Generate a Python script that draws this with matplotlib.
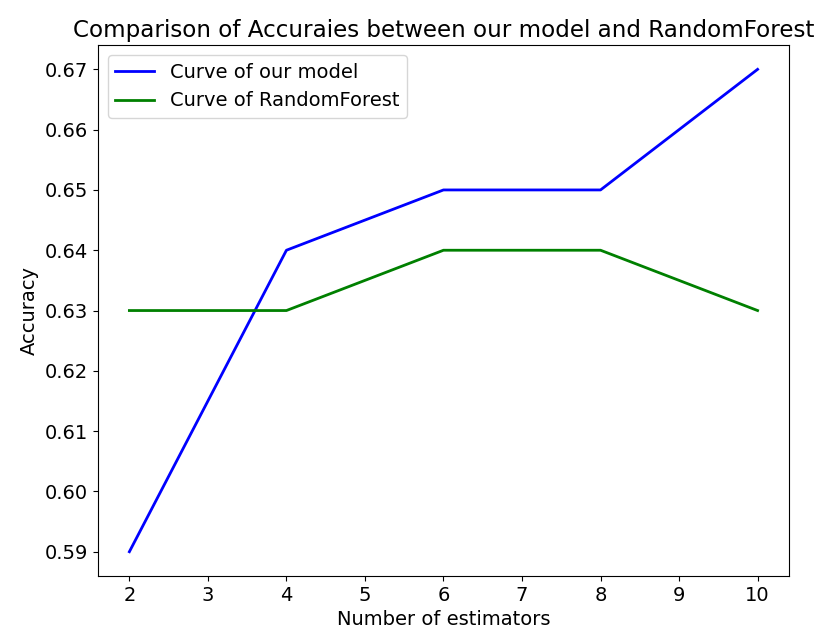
import matplotlib
matplotlib.use("Agg")
import matplotlib.pyplot as plt

# number of estimators vs accuracy
estimators = [2, 4, 6, 8, 10]
acc_ours = [0.59, 0.64, 0.65, 0.65, 0.67]
acc_rf = [0.63, 0.63, 0.64, 0.64, 0.63]

plt.rcParams['font.size'] = 14

fig = plt.figure(figsize=(8.26, 6.37), dpi=100)
ax = fig.add_axes([0.1186, 0.096, 0.8366, 0.833])
ax.plot(estimators, acc_ours, color='blue', lw=2, label='Curve of our model')
ax.plot(estimators, acc_rf, color='green', lw=2, label='Curve of RandomForest')
ax.set_xlim(1.6, 10.4)
ax.set_ylim(0.586, 0.674)
ax.set_yticks([0.59, 0.60, 0.61, 0.62, 0.63, 0.64, 0.65, 0.66, 0.67])
ax.set_title('Comparison of Accuraies between our model and RandomForest', fontsize=16.6)
ax.set_xlabel('Number of estimators')
ax.set_ylabel('Accuracy')
ax.legend(loc='upper left')

fig.savefig('out.png')
